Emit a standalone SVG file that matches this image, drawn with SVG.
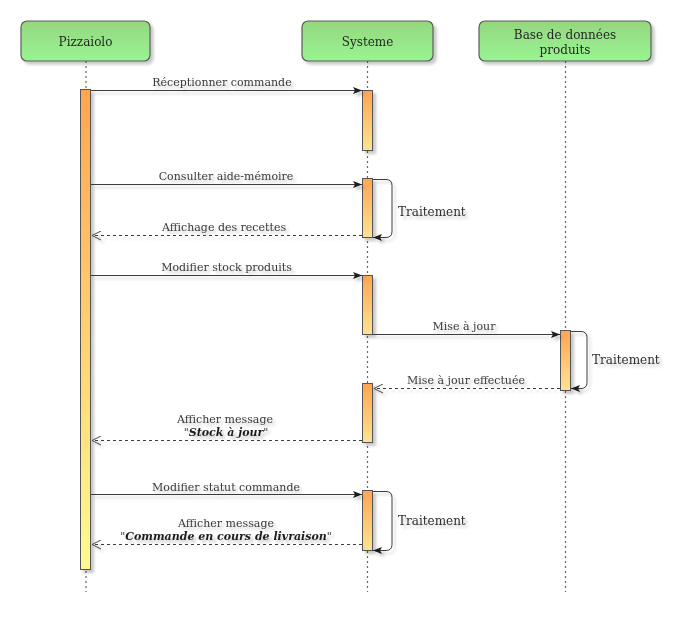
<svg xmlns="http://www.w3.org/2000/svg" width="691" height="622" viewBox="0 0 691 622">
  <style>
    .box { fill: url(#gGreen); stroke: #5b5b5b; stroke-width: 1.2; }
    .ptext { font-family: "DejaVu Serif", "Liberation Serif", serif; font-size: 12px; fill: #262626; text-anchor: middle; }
    .life { stroke: #666; stroke-width: 1.2; stroke-dasharray: 2 3; fill: none; }
    .act { fill: url(#gAct); stroke: #555; stroke-width: 1; }
    .msg { stroke: #3c3c3c; stroke-width: 1; fill: none; }
    .ret { stroke: #3c3c3c; stroke-width: 1; fill: none; stroke-dasharray: 3 3; }
    .lbl { font-family: "DejaVu Serif", "Liberation Serif", serif; font-size: 11px; fill: #3a3a3a; text-anchor: middle; }
    .em { font-weight: bold; font-style: italic; fill: #1e1e1e; }
    .side { font-family: "DejaVu Serif", "Liberation Serif", serif; font-size: 12px; fill: #2e2e2e; }
  </style>
  <defs>
    <linearGradient id="gGreen" x1="0" y1="0" x2="0" y2="1">
      <stop offset="0" stop-color="#95d67f"/>
      <stop offset="1" stop-color="#98f592"/>
    </linearGradient>
    <linearGradient id="gAct" x1="0" y1="0" x2="0" y2="1">
      <stop offset="0" stop-color="#ffa54f"/>
      <stop offset="1" stop-color="#ffe394"/>
    </linearGradient>
    <linearGradient id="gActLong" x1="0" y1="0" x2="0" y2="1">
      <stop offset="0" stop-color="#ffa54f"/>
      <stop offset="1" stop-color="#fffb90"/>
    </linearGradient>
    <filter id="shadow" x="-20%" y="-20%" width="140%" height="140%">
      <feGaussianBlur in="SourceAlpha" stdDeviation="1.6"/>
      <feOffset dx="2.5" dy="2.5" result="b"/>
      <feComponentTransfer><feFuncA type="linear" slope="0.22"/></feComponentTransfer>
      <feMerge><feMergeNode/><feMergeNode in="SourceGraphic"/></feMerge>
    </filter>
    <marker id="arrowFill" markerWidth="10" markerHeight="8" refX="9" refY="4" orient="auto" markerUnits="userSpaceOnUse">
      <path d="M0,0.5 L9,4 L0,7.5 L2,4 Z" fill="#1a1a1a"/>
    </marker>
    <marker id="arrowOpen" markerWidth="12" markerHeight="10" refX="10" refY="5" orient="auto" markerUnits="userSpaceOnUse">
      <path d="M1,0.5 L10,5 L1,9.5" fill="none" stroke="#444" stroke-width="1"/>
    </marker>
  </defs>

  <!-- lifelines -->
  <g id="lifelines">
    <line class="life" x1="86" y1="61" x2="86" y2="592"/>
    <line class="life" x1="367.5" y1="61" x2="367.5" y2="592"/>
    <line class="life" x1="565.5" y1="61" x2="565.5" y2="592"/>
  </g>

  <!-- participants -->
  <g id="pizzaiolo" filter="url(#shadow)">
    <rect class="box" x="21" y="21" width="129" height="40" rx="6"/>
    <text class="ptext" x="85.5" y="46">Pizzaiolo</text>
  </g>
  <g id="systeme" filter="url(#shadow)">
    <rect class="box" x="302" y="21" width="131" height="40" rx="6"/>
    <text class="ptext" x="367.5" y="46">Systeme</text>
  </g>
  <g id="base" filter="url(#shadow)">
    <rect class="box" x="479" y="21" width="172" height="40" rx="6"/>
    <text class="ptext" x="565" y="39">Base de données</text>
    <text class="ptext" x="565" y="54">produits</text>
  </g>

  <!-- activation bars -->
  <g id="activations" filter="url(#shadow)">
    <rect class="act" x="80.5" y="89.5" width="10" height="480" fill="url(#gActLong)" style="fill:url(#gActLong)"/>
    <rect class="act" x="362.5" y="90.5" width="10" height="60"/>
    <rect class="act" x="362.5" y="178.5" width="10" height="59"/>
    <rect class="act" x="362.5" y="275.5" width="10" height="59"/>
    <rect class="act" x="362.5" y="383.5" width="10" height="59"/>
    <rect class="act" x="362.5" y="490.5" width="10" height="60"/>
    <rect class="act" x="560.5" y="330.5" width="10" height="60"/>
  </g>

  <!-- connectors -->
  <g id="connectors" filter="url(#shadow)">
    <line class="msg" x1="91" y1="90.5" x2="362" y2="90.5" marker-end="url(#arrowFill)"/>
    <line class="msg" x1="91" y1="184.5" x2="362" y2="184.5" marker-end="url(#arrowFill)"/>
    <path class="msg" d="M373,179.5 H386 Q392,179.5 392,185.5 V231.5 Q392,237.5 386,237.5 H373" marker-end="url(#arrowFill)"/>
    <line class="ret" x1="362" y1="235.5" x2="92" y2="235.5" marker-end="url(#arrowOpen)"/>
    <line class="msg" x1="91" y1="275.5" x2="362" y2="275.5" marker-end="url(#arrowFill)"/>
    <line class="msg" x1="373" y1="334.5" x2="560" y2="334.5" marker-end="url(#arrowFill)"/>
    <path class="msg" d="M571,331.5 H581 Q587,331.5 587,337.5 V382.5 Q587,388.5 581,388.5 H571" marker-end="url(#arrowFill)"/>
    <line class="ret" x1="560" y1="388.5" x2="374" y2="388.5" marker-end="url(#arrowOpen)"/>
    <line class="ret" x1="362" y1="440.5" x2="92" y2="440.5" marker-end="url(#arrowOpen)"/>
    <line class="msg" x1="91" y1="494.5" x2="362" y2="494.5" marker-end="url(#arrowFill)"/>
    <path class="msg" d="M373,491.5 H386 Q392,491.5 392,497.5 V544.5 Q392,550.5 386,550.5 H373" marker-end="url(#arrowFill)"/>
    <line class="ret" x1="362" y1="544.5" x2="92" y2="544.5" marker-end="url(#arrowOpen)"/>
  </g>

  <!-- connector labels -->
  <g id="labels" filter="url(#shadow)">
    <text class="lbl" x="222" y="86">Réceptionner commande</text>
    <text class="lbl" x="226" y="180">Consulter aide-mémoire</text>
    <text class="side" x="398" y="216">Traitement</text>
    <text class="lbl" x="224" y="231">Affichage des recettes</text>
    <text class="lbl" x="226.5" y="271">Modifier stock produits</text>
    <text class="lbl" x="464" y="330">Mise à jour</text>
    <text class="side" x="592" y="364">Traitement</text>
    <text class="lbl" x="466" y="384">Mise à jour effectuée</text>
    <text class="lbl" x="225" y="423">Afficher message</text>
    <text class="lbl" x="226" y="436">"<tspan class="em">Stock à jour</tspan>"</text>
    <text class="lbl" x="226" y="491">Modifier statut commande</text>
    <text class="side" x="398" y="525">Traitement</text>
    <text class="lbl" x="226" y="527">Afficher message</text>
    <text class="lbl" x="226" y="540">"<tspan class="em">Commande en cours de livraison</tspan>"</text>
  </g>
</svg>
